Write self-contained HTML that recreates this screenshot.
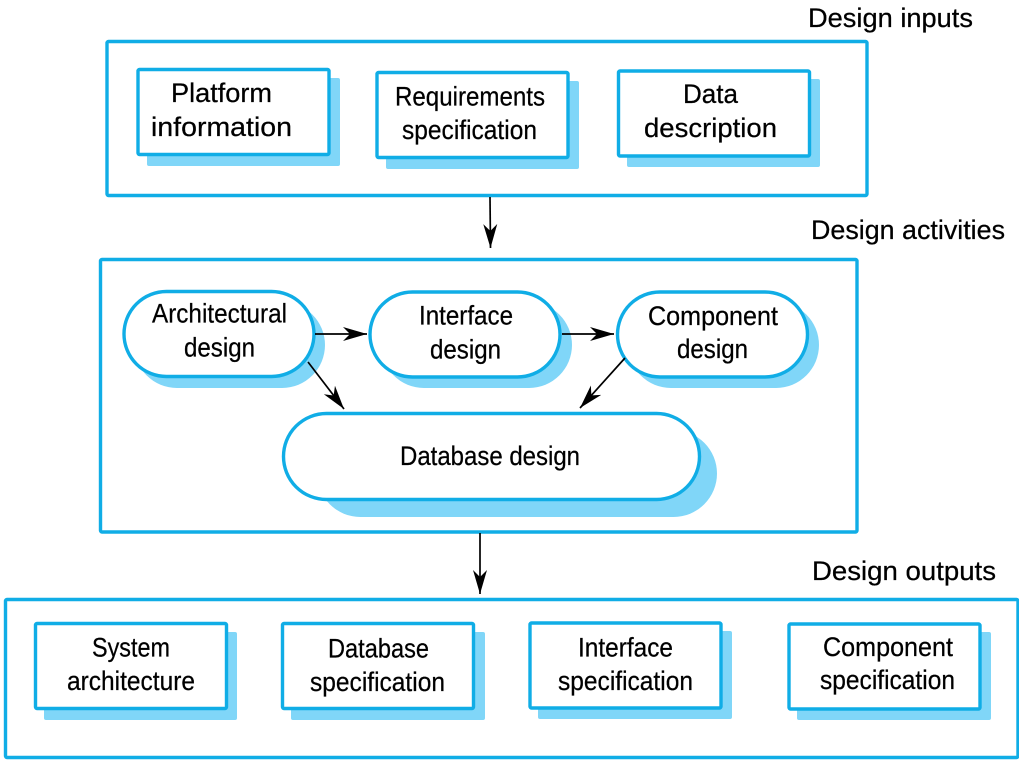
<!DOCTYPE html>
<html><head><meta charset="utf-8"><style>
html,body{margin:0;padding:0;background:#fff;width:1019px;height:761px;overflow:hidden}
svg{display:block}
text{font-family:"Liberation Sans",sans-serif;font-size:27px;fill:#000;stroke:#000;stroke-width:.25}
.o{fill:#fff;stroke:#10ade6;stroke-width:3.4}
.b{fill:#fff;stroke:#10ade6;stroke-width:3.4}
.s{fill:#80d6f8}
.l{stroke:#000;stroke-width:1.7;fill:none}
</style></head><body>
<svg width="1019" height="761" viewBox="0 0 1019 761" xmlns="http://www.w3.org/2000/svg">
<defs><marker id="a" markerUnits="userSpaceOnUse" markerWidth="26" markerHeight="18" refX="24" refY="8" orient="auto"><path d="M0 1L24 8L0 15L7 8Z" fill="#000"/></marker></defs>
<rect width="1019" height="761" fill="#fff"/>

<rect class="o" x="107" y="41.500" width="760" height="154" rx="1.500"/>
<rect class="o" x="100.500" y="259.500" width="756.500" height="272.500" rx="1.500"/>
<rect class="o" x="5.500" y="599.500" width="1012.500" height="158" rx="1.500"/>

<!-- Inputs -->
<rect class="s" x="147" y="78" width="193" height="88" rx="2"/>
<rect class="b" x="138" y="69.500" width="191" height="85" rx="1.500"/>
<rect class="s" x="386" y="81" width="193" height="88" rx="2"/>
<rect class="b" x="377" y="72.500" width="191" height="85" rx="1.500"/>
<rect class="s" x="627" y="79" width="193" height="88" rx="2"/>
<rect class="b" x="618.500" y="71" width="191" height="85" rx="1.500"/>

<!-- Activities -->
<rect class="s" x="134" y="302" width="191" height="86" rx="43"/>
<rect class="b" x="124" y="291.500" width="190" height="85" rx="42.500"/>
<rect class="s" x="381" y="302" width="191" height="86" rx="43"/>
<rect class="b" x="370" y="292" width="190" height="85" rx="42.500"/>
<rect class="s" x="628" y="302" width="191" height="86" rx="43"/>
<rect class="b" x="617.500" y="292" width="190" height="85" rx="42.500"/>
<rect class="s" x="317" y="430" width="400" height="87" rx="43.500"/>
<rect class="b" x="283.500" y="413.500" width="416" height="86" rx="43"/>

<!-- Outputs -->
<rect class="s" x="44" y="632" width="193" height="88" rx="2"/>
<rect class="b" x="35.500" y="623.500" width="191" height="85" rx="1.500"/>
<rect class="s" x="291" y="632" width="194" height="88" rx="2"/>
<rect class="b" x="282.500" y="623.500" width="191" height="85" rx="1.500"/>
<rect class="s" x="538" y="631" width="194" height="88" rx="2"/>
<rect class="b" x="530" y="623" width="191" height="85" rx="1.500"/>
<rect class="s" x="797" y="632" width="194" height="88" rx="2"/>
<rect class="b" x="789" y="624" width="191" height="85" rx="1.500"/>

<!-- Arrows -->
<line class="l" x1="490" y1="197" x2="490.500" y2="248" marker-end="url(#a)"/>
<line class="l" x1="480" y1="533" x2="480" y2="594" marker-end="url(#a)"/>
<line class="l" x1="315" y1="334" x2="367" y2="334" marker-end="url(#a)"/>
<line class="l" x1="562" y1="334" x2="614" y2="334" marker-end="url(#a)"/>
<line class="l" x1="308" y1="362" x2="344" y2="409" marker-end="url(#a)"/>
<line class="l" x1="625" y1="358" x2="580" y2="408" marker-end="url(#a)"/>

<!-- Labels -->
<text x="808" y="27" textLength="165" lengthAdjust="spacingAndGlyphs">Design inputs</text>
<text x="811" y="239" textLength="194" lengthAdjust="spacingAndGlyphs">Design activities</text>
<text x="812" y="580" textLength="184" lengthAdjust="spacingAndGlyphs">Design outputs</text>

<text x="171" y="102" textLength="101" lengthAdjust="spacingAndGlyphs">Platform</text>
<text x="151" y="136" textLength="141" lengthAdjust="spacingAndGlyphs">information</text>
<text x="395" y="105.500" textLength="150" lengthAdjust="spacingAndGlyphs">Requirements</text>
<text x="402" y="139" textLength="135" lengthAdjust="spacingAndGlyphs">specification</text>
<text x="683" y="103" textLength="55" lengthAdjust="spacingAndGlyphs">Data</text>
<text x="644" y="137" textLength="133" lengthAdjust="spacingAndGlyphs">description</text>

<text x="152" y="322.500" textLength="135" lengthAdjust="spacingAndGlyphs">Architectural</text>
<text x="184" y="356.500" textLength="71" lengthAdjust="spacingAndGlyphs">design</text>
<text x="419" y="324.500" textLength="94" lengthAdjust="spacingAndGlyphs">Interface</text>
<text x="430" y="358.500" textLength="71" lengthAdjust="spacingAndGlyphs">design</text>
<text x="648" y="325" textLength="130" lengthAdjust="spacingAndGlyphs">Component</text>
<text x="677" y="358" textLength="71" lengthAdjust="spacingAndGlyphs">design</text>
<text x="400" y="465" textLength="180" lengthAdjust="spacingAndGlyphs">Database design</text>

<text x="92" y="656.500" textLength="78" lengthAdjust="spacingAndGlyphs">System</text>
<text x="67" y="690" textLength="128" lengthAdjust="spacingAndGlyphs">architecture</text>
<text x="328" y="657.500" textLength="101" lengthAdjust="spacingAndGlyphs">Database</text>
<text x="310" y="691" textLength="135" lengthAdjust="spacingAndGlyphs">specification</text>
<text x="578" y="656.500" textLength="95" lengthAdjust="spacingAndGlyphs">Interface</text>
<text x="558" y="690" textLength="135" lengthAdjust="spacingAndGlyphs">specification</text>
<text x="823" y="656" textLength="130" lengthAdjust="spacingAndGlyphs">Component</text>
<text x="820" y="689" textLength="135" lengthAdjust="spacingAndGlyphs">specification</text>
</svg>
</body></html>
